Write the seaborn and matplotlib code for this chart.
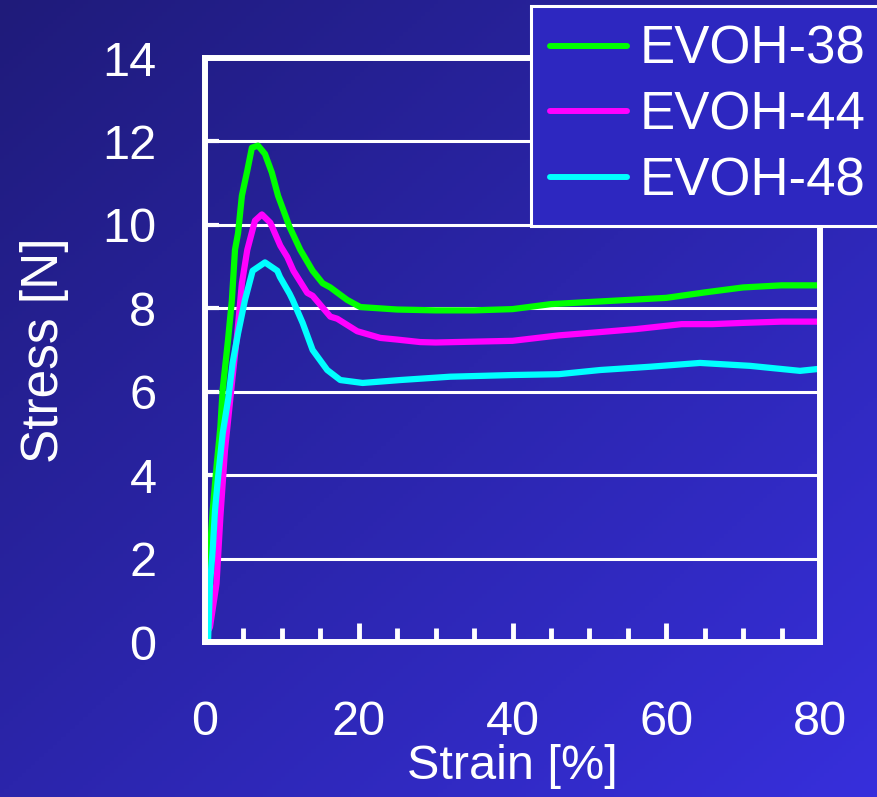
import numpy as np
import pandas as pd
import matplotlib
matplotlib.use('Agg')
import matplotlib.pyplot as plt
from matplotlib.ticker import MultipleLocator
import seaborn as sns

# Stress-strain curves
strain_38 = [0, 0.4, 1.0, 1.5, 2.0, 2.3, 3.0, 3.5, 3.9, 4.3, 4.8, 5.5, 6.1, 6.9, 7.8, 8.7,
             9.5, 11.0, 12.4, 14.0, 15.3, 16.3, 18.5, 20.2, 25, 30, 35, 40, 45, 50, 55,
             60, 65, 70, 75, 80]
stress_38 = [0, 1.5, 3.15, 4.2, 5.15, 6.05, 7.25, 8.2, 9.4, 9.8, 10.7, 11.3, 11.85, 11.9,
             11.7, 11.25, 10.7, 9.95, 9.4, 8.9, 8.6, 8.5, 8.2, 8.03, 7.97, 7.95, 7.95,
             7.98, 8.1, 8.15, 8.2, 8.25, 8.38, 8.5, 8.55, 8.55]

strain_44 = [0.5, 0.65, 1.5, 2.0, 2.6, 3.5, 4.2, 4.8, 5.5, 6.5, 7.4, 8.5, 9.8, 10.7, 11.5,
             13.3, 14.0, 16.3, 17.2, 19.8, 22.8, 25, 28, 30, 35, 40, 46, 51.4, 56, 62,
             66, 70, 75, 80]
stress_44 = [0.3, 0.36, 1.4, 3.0, 4.6, 6.2, 7.4, 8.6, 9.4, 10.1, 10.25, 10.05, 9.5, 9.23,
             8.9, 8.37, 8.3, 7.8, 7.75, 7.45, 7.29, 7.25, 7.19, 7.18, 7.2, 7.22, 7.35,
             7.43, 7.5, 7.62, 7.62, 7.65, 7.68, 7.68]

strain_48 = [0, 0.4, 0.65, 1.0, 1.3, 1.7, 2.3, 3.0, 3.6, 4.3, 5.2, 6.2, 7.8, 9.4, 9.75,
             11.0, 11.4, 12.7, 14.0, 15.9, 17.6, 20.5, 25.4, 31.9, 40, 46, 51.4, 58,
             64.4, 70.9, 77.4, 80]
stress_48 = [0, 0.05, 1.4, 2.2, 3.15, 3.95, 5.0, 5.8, 6.7, 7.4, 8.2, 8.9, 9.1, 8.9, 8.75,
             8.35, 8.2, 7.65, 7.0, 6.52, 6.28, 6.21, 6.28, 6.36, 6.4, 6.42, 6.52, 6.6,
             6.69, 6.62, 6.5, 6.55]

samples = ['EVOH-38', 'EVOH-44', 'EVOH-48']
colors = ['#00ff00', '#ff00ff', '#00ffff']
x_ticks = [0, 20, 40, 60, 80]
y_ticks = [0, 2, 4, 6, 8, 10, 12, 14]

df = pd.concat([
    pd.DataFrame({'strain': strain_38, 'stress': stress_38, 'sample': samples[0]}),
    pd.DataFrame({'strain': strain_44, 'stress': stress_44, 'sample': samples[1]}),
    pd.DataFrame({'strain': strain_48, 'stress': stress_48, 'sample': samples[2]}),
], ignore_index=True)

sns.set_style('ticks')
plt.rcParams['font.family'] = ['Liberation Sans', 'DejaVu Sans']

fig = plt.figure(figsize=(8.77, 7.97), dpi=100)

# blue diagonal gradient background
bg = fig.add_axes([0, 0, 1, 1], zorder=-10)
u, v = np.meshgrid(np.linspace(0, 1, 200), np.linspace(0, 1, 200))
t = (u + v) / 2
c0 = np.array([0x1f, 0x1b, 0x7a]) / 255
c1 = np.array([0x37, 0x2f, 0xdc]) / 255
img = c0[None, None, :] + t[:, :, None] * (c1 - c0)[None, None, :]
bg.imshow(img, extent=[0, 1, 0, 1], aspect='auto', origin='upper')
bg.axis('off')

ax = fig.add_axes([205 / 877, 1 - 642 / 797, 615 / 877, 584 / 797])
ax.set_facecolor('none')

sns.lineplot(data=df, x='strain', y='stress', hue='sample', hue_order=samples,
             palette=dict(zip(samples, colors)), sort=False, estimator=None,
             linewidth=4.5, ax=ax)

ax.set_xlim(0, 80)
ax.set_ylim(0, 14)
ax.set_xticks(x_ticks)
ax.set_yticks(y_ticks)
ax.xaxis.set_minor_locator(MultipleLocator(5))

for s in ax.spines.values():
    s.set_color('white')
    s.set_linewidth(4.3)

ax.yaxis.grid(True, color='white', linewidth=2.2)
ax.xaxis.grid(False)

ax.tick_params(axis='x', which='major', direction='in', length=14, width=3.5,
               color='white', labelcolor='white', labelsize=35, pad=42)
ax.tick_params(axis='x', which='minor', direction='in', length=10, width=3.5, color='white')
ax.tick_params(axis='y', which='major', direction='in', length=10, width=3,
               color='white', labelcolor='white', labelsize=35, pad=35)

ax.set_xlabel('Strain [%]', fontsize=35, color='white', labelpad=-1)
ax.set_ylabel('Stress [N]', fontsize=37, color='white', labelpad=24)

handles, labels = ax.get_legend_handles_labels()
for h in handles:
    h.set_linewidth(4.3)
leg = ax.legend(handles, labels, loc='upper left', bbox_to_anchor=(531 / 877, 1 - 6 / 797),
                bbox_transform=fig.transFigure, borderaxespad=0, fontsize=38,
                frameon=True, fancybox=False, edgecolor='white', facecolor='#2d27c0',
                framealpha=1, handlelength=1.45, handletextpad=0.25, borderpad=0.36,
                labelspacing=0.3, labelcolor='white')
leg.get_frame().set_linewidth(2.2)

fig.savefig('out.png', dpi=100)
